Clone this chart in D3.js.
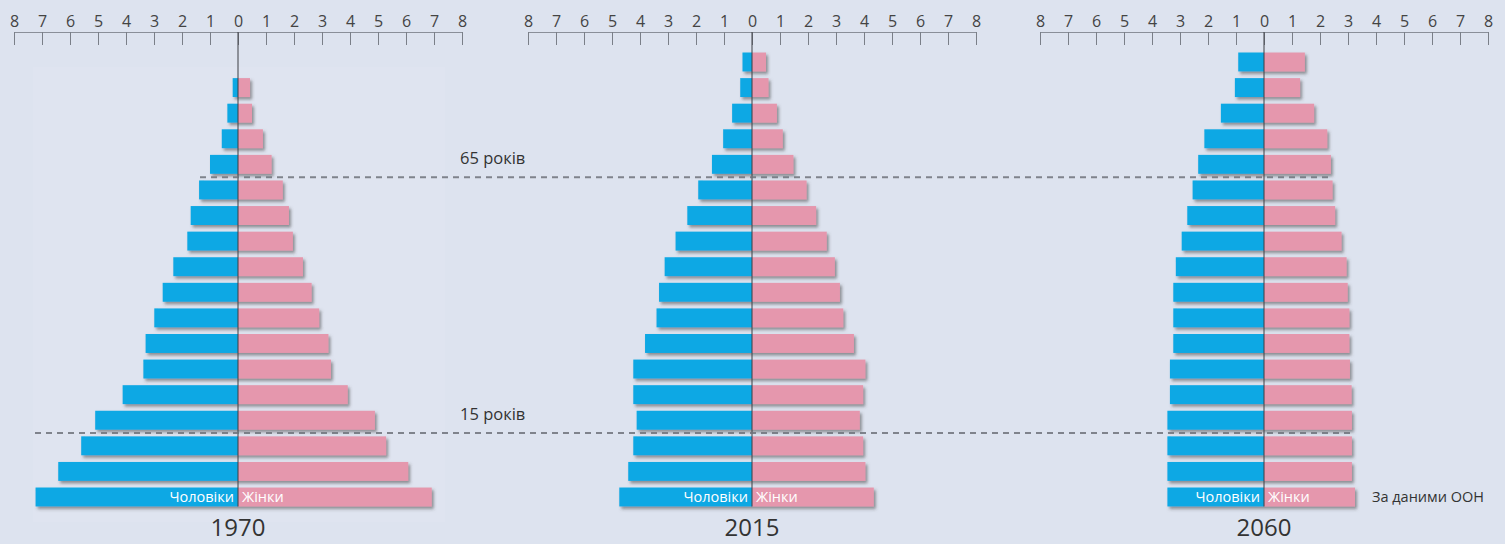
<!DOCTYPE html>
<html>
<head>
<meta charset="utf-8">
<script src="https://cdn.jsdelivr.net/npm/d3@7"></script>
<style>
  html, body { margin: 0; padding: 0; background: #dde3ef; }
  svg { display: block; font-family: "Open Sans", "Noto Sans", sans-serif; }
</style>
</head>
<body>
<svg id="chart" width="1505" height="544"></svg>
<script>
// ---- data (percent of total population), age groups from youngest to oldest ----
const ageGroups = ["0-4","5-9","10-14","15-19","20-24","25-29","30-34","35-39","40-44",
                   "45-49","50-54","55-59","60-64","65-69","70-74","75-79","80-84","85+"];
const years = ["1970", "2015", "2060"];
const male1970   = [7.23, 6.42, 5.60, 5.10, 4.12, 3.38, 3.30, 2.99, 2.69, 2.31, 1.81, 1.69, 1.39, 1.00, 0.58, 0.38, 0.19, null];
const female1970 = [6.92, 6.08, 5.29, 4.89, 3.92, 3.32, 3.23, 2.90, 2.63, 2.32, 1.96, 1.82, 1.60, 1.20, 0.89, 0.50, 0.43, null];
const male2015   = [4.74, 4.42, 4.24, 4.12, 4.24, 4.24, 3.82, 3.41, 3.32, 3.12, 2.73, 2.31, 1.92, 1.43, 1.03, 0.71, 0.42, 0.34];
const female2015 = [4.35, 4.05, 3.97, 3.85, 3.97, 4.05, 3.64, 3.26, 3.14, 2.96, 2.67, 2.29, 1.95, 1.48, 1.10, 0.89, 0.59, 0.50];
const male2060   = [3.45, 3.45, 3.45, 3.45, 3.36, 3.36, 3.24, 3.24, 3.24, 3.15, 2.94, 2.74, 2.55, 2.35, 2.13, 1.54, 1.04, 0.92];
const female2060 = [3.25, 3.14, 3.14, 3.14, 3.13, 3.07, 3.05, 3.05, 2.99, 2.95, 2.77, 2.54, 2.45, 2.39, 2.26, 1.79, 1.29, 1.46];
const tickValues = [-8,-7,-6,-5,-4,-3,-2,-1,0,1,2,3,4,5,6,7,8];
const markers = [{age: "65 років", boundary: ["65-69","60-64"]}, {age: "15 років", boundary: ["15-19","10-14"]}];
const labelMale = "Чоловіки", labelFemale = "Жінки", sourceText = "За даними ООН";

// ---- layout ----
const svg = d3.select("#chart");
const W = 1505, H = 544;
const maleColor = "#0aa8e4", femaleColor = "#e597ad";
const panelZeros = [238, 752, 1264];
const halfWidth = 224;
const axisY = 32;

const defs = svg.append("defs");
const f = defs.append("filter").attr("id", "shadow").attr("x", "-10%").attr("y", "-30%").attr("width", "130%").attr("height", "180%");
f.append("feDropShadow").attr("dx", 2).attr("dy", 2.5).attr("stdDeviation", 1.4)
  .attr("flood-color", "#4a4a4a").attr("flood-opacity", 0.55);

svg.append("rect").attr("width", W).attr("height", H).attr("fill", "#dde3ef");
// faint lighter panel behind first pyramid
svg.append("rect").attr("x", 33).attr("y", 67).attr("width", 412).attr("height", 455).attr("fill", "#dfe4f0");

const y = d3.scaleBand()
  .domain(ageGroups.slice().reverse())
  .range([49.2, 509.8])
  .paddingInner(0.26)
  .paddingOuter(0.13);

const panels = [
  {year: years[0], male: male1970, female: female1970},
  {year: years[1], male: male2015, female: female2015},
  {year: years[2], male: male2060, female: female2060}
];

panels.forEach((p, i) => {
  const z = panelZeros[i];
  const x = d3.scaleLinear().domain([-8, 8]).range([z - halfWidth, z + halfWidth]);
  const g = svg.append("g");

  // axis
  const axis = d3.axisTop(x).tickValues(tickValues).tickFormat(d => Math.abs(d))
    .tickSizeInner(-13).tickSizeOuter(0).tickPadding(5);
  const ag = g.append("g").attr("transform", `translate(0,${axisY})`).call(axis);
  ag.select(".domain").attr("stroke", "#8a8f99").attr("stroke-width", 1);
  ag.selectAll(".tick line").attr("stroke", "#7a7f88");
  ag.selectAll(".tick text").attr("fill", "#444").attr("font-size", 16)
    .attr("font-family", "\"Open Sans\", sans-serif");

  const rows = ageGroups.map((a, k) => ({age: a, m: p.male[k], f: p.female[k]})).filter(d => d.m != null);

  const bars = g.append("g").attr("filter", "url(#shadow)");
  bars.selectAll("rect.m").data(rows).join("rect").attr("class", "m")
    .attr("x", d => x(-d.m)).attr("width", d => x(0) - x(-d.m))
    .attr("y", d => y(d.age)).attr("height", y.bandwidth())
    .attr("fill", maleColor);
  bars.selectAll("rect.f").data(rows).join("rect").attr("class", "f")
    .attr("x", x(0)).attr("width", d => x(d.f) - x(0))
    .attr("y", d => y(d.age)).attr("height", y.bandwidth())
    .attr("fill", femaleColor);

  // zero line
  g.append("line").attr("x1", x(0)).attr("x2", x(0))
    .attr("y1", axisY).attr("y2", y("0-4") + y.bandwidth())
    .attr("stroke", "#3c3f45").attr("stroke-width", 1);

  // sex labels inside bottom bar
  const by = y("0-4") + y.bandwidth() / 2;
  g.append("text").attr("x", x(0) - 4).attr("y", by).attr("dy", "0.36em")
    .attr("text-anchor", "end").attr("fill", "#ffffff").attr("font-size", 14.5)
    .attr("font-family", "\"Open Sans\", sans-serif").text(labelMale);
  g.append("text").attr("x", x(0) + 4).attr("y", by).attr("dy", "0.36em")
    .attr("text-anchor", "start").attr("fill", "#ffffff").attr("font-size", 14.5)
    .attr("font-family", "\"Open Sans\", sans-serif").text(labelFemale);

  // year
  g.append("text").attr("x", x(0)).attr("y", 536).attr("text-anchor", "middle")
    .attr("fill", "#333").attr("font-size", 24).text(p.year);
});

// age boundary dashed lines
const lineExtents = [[200, 1330], [35, 1355]];
markers.forEach((mk, i) => {
  const ly = (y(mk.boundary[0]) + y.bandwidth() + y(mk.boundary[1])) / 2;
  svg.append("line").attr("x1", lineExtents[i][0]).attr("x2", lineExtents[i][1])
    .attr("y1", ly).attr("y2", ly)
    .attr("stroke", "#6f737b").attr("stroke-width", 2).attr("stroke-dasharray", "6,5")
    .attr("opacity", 0.85);
  svg.append("text").attr("x", 460).attr("y", ly - 13)
    .attr("fill", "#333").attr("font-size", 16.5).text(mk.age);
});

// source
svg.append("text").attr("x", 1372).attr("y", y("0-4") + y.bandwidth() / 2).attr("dy", "0.36em")
  .attr("fill", "#333").attr("font-size", 14.5).text(sourceText);
</script>
</body>
</html>
